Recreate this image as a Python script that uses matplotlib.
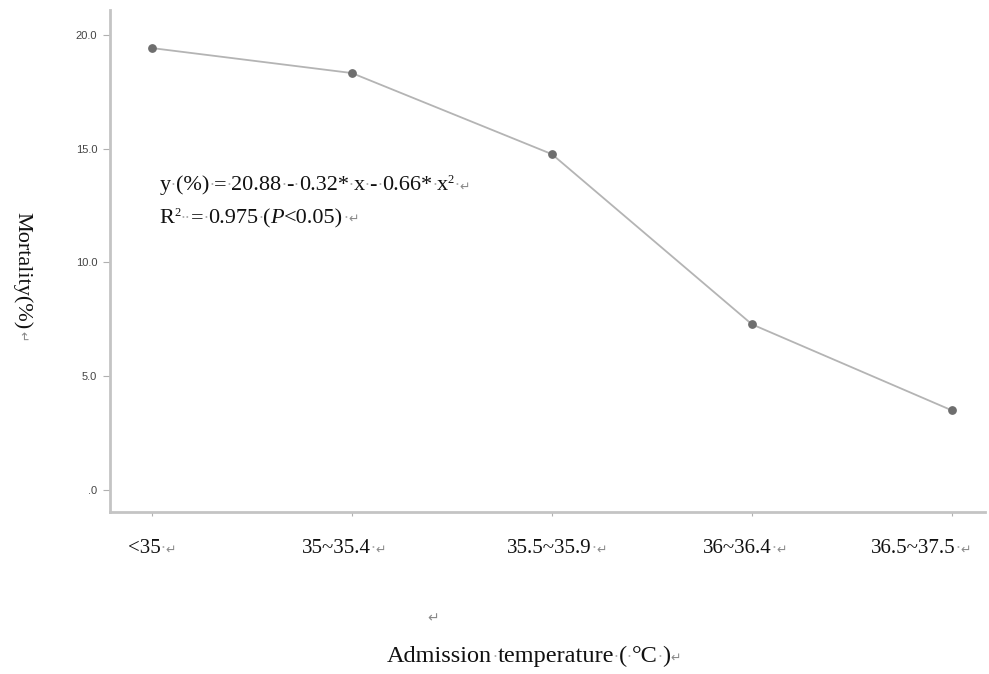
import matplotlib.pyplot as plt
from matplotlib.transforms import offset_copy, blended_transform_factory

# data
categories = ["<35", "35~35.4", "35.5~35.9", "36~36.4", "36.5~37.5"]
mortality = [19.43, 18.33, 14.76, 7.27, 3.48]
yticks = [0, 5, 10, 15, 20]
ytick_labels = [".0", "5.0", "10.0", "15.0", "20.0"]

serif = ["Liberation Serif", "DejaVu Sans"]
DARK = "#111111"
MARK = "#8a8a8a"

fig = plt.figure(figsize=(9.89, 6.74), dpi=100)
ax = fig.add_axes([0.111, 0.240, 0.885, 0.745])
renderer = fig.canvas.get_renderer()


def text_run(x, y, pieces, transform, ha="left"):
    """Draw a run of text pieces side by side, each with its own style.
    A piece is (text, style) or (text, style, rise_in_pixels)."""
    widths = []
    for p in pieces:
        t = fig.text(0, 0, p[0], **p[1])
        widths.append(t.get_window_extent(renderer).width)
        t.remove()
    pos = -sum(widths) / 2 if ha == "center" else 0
    for p, w in zip(pieces, widths):
        rise = p[2] if len(p) > 2 else 0
        tr = offset_copy(transform, fig=fig, x=pos, y=rise, units="dots")
        fig.text(x, y, p[0], transform=tr, ha="left", va="baseline", **p[1])
        pos += w


tick = dict(fontsize=15, family=serif, color=DARK)
main = dict(fontsize=16, family=serif, color=DARK)
ital = dict(fontsize=16, family=serif, color=DARK, style="italic")
xlab = dict(fontsize=17.5, family=serif, color=DARK)
sup = dict(fontsize=9, family=serif, color=DARK)
mark = dict(fontsize=9, family="DejaVu Sans", color=MARK)
dot = dict(fontsize=11, family="DejaVu Sans", color="#b0b0b0")

x = list(range(len(categories)))
ax.plot(x, mortality, color="#b4b4b4", linewidth=1.3, zorder=2)
ax.scatter(x, mortality, color="#6e6e6e", s=28, zorder=3)

ax.set_xlim(-0.21, 4.165)
ax.set_ylim(-1.0, 21.1)

# only left and bottom spines, light grey and thick
for side in ["top", "right"]:
    ax.spines[side].set_visible(False)
for side in ["left", "bottom"]:
    ax.spines[side].set_color("#c4c4c4")
    ax.spines[side].set_linewidth(2.0)

ax.set_yticks(yticks)
ax.set_yticklabels(ytick_labels, fontsize=8, color="#444444",
                   family="Liberation Sans")
ax.tick_params(axis="y", direction="out", length=5, width=0.8,
               color="#b0b0b0", pad=4)

ax.set_xticks(x)
ax.set_xticklabels([])
ax.tick_params(axis="x", direction="out", length=3, width=0.8,
               color="#b0b0b0")

# category labels, the last one pulled left to stay inside the figure
xtrans = blended_transform_factory(ax.transData, ax.transAxes)
shifts = [0, -8, 5, -7, -31]
for i, (cat, dx) in enumerate(zip(categories, shifts)):
    tr = offset_copy(xtrans, fig=fig, x=dx, y=0, units="dots")
    text_run(i, -0.082, [(cat, tick), ("\u00b7", dot), ("\u21b5", mark)],
             tr, ha="center")

# regression equation
text_run(0.057, 0.641,
         [("y", main), ("\u00b7", dot), ("(%)", main), ("\u00b7", dot),
          ("=", main), ("\u00b7", dot), ("20.88", main), ("\u00b7", dot),
          ("-", main), ("\u00b7", dot), ("0.32*", main), ("\u00b7", dot),
          ("x", main), ("\u00b7", dot), ("-", main), ("\u00b7", dot),
          ("0.66*", main), ("\u00b7", dot), ("x", main), ("2", sup, 7),
          ("\u00b7", dot), ("\u21b5", mark)],
         ax.transAxes)
text_run(0.057, 0.576,
         [("R", main), ("2", sup, 7), ("\u00b7\u00b7", dot), ("=", main),
          ("\u00b7", dot), ("0.975", main), ("\u00b7", dot), ("(", main),
          ("P", ital), ("<0.05)", main), ("\u00b7", dot), ("\u21b5", mark)],
         ax.transAxes)

# y axis label, read top to bottom
ylab = fig.text(0.022, 1 - 212 / 674, "Mortality(%)", rotation=270,
                ha="center", va="top", **main)
lab_h = ylab.get_window_extent(renderer).height
fig.text(0.022, 1 - (212 + lab_h + 2) / 674, "\u21b5", rotation=270,
         ha="center", va="top", **mark)

# empty paragraph mark and x axis label
fig.text(0.438, 0.083, "\u21b5", fontsize=10, family="DejaVu Sans",
         color=MARK, ha="center", va="center")
text_run(0.54, 0.018,
         [("Admission", xlab), ("\u00b7", dot), ("temperature", xlab),
          ("\u00b7", dot), ("(", xlab), ("\u00b7", dot), ("\u00b0C", xlab),
          ("\u00b7", dot), (")", xlab), ("\u21b5", mark)],
         fig.transFigure, ha="center")

fig.savefig("out.png", dpi=100)
